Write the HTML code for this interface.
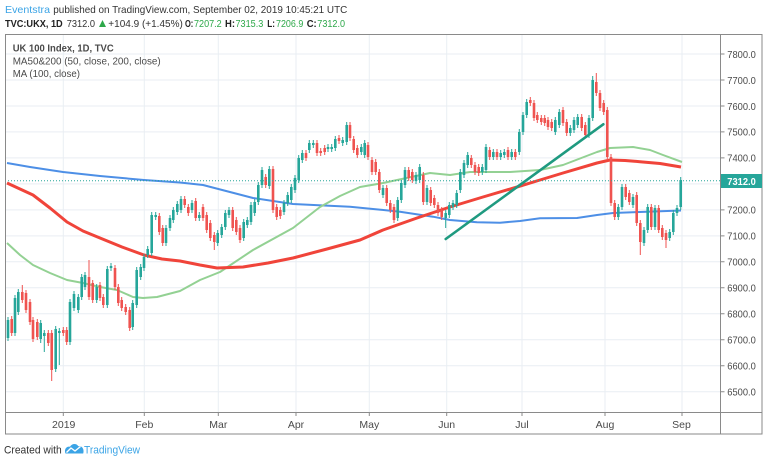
<!DOCTYPE html>
<html><head><meta charset="utf-8"><style>
html,body{margin:0;padding:0;background:#fff;}
svg{display:block;font-family:"Liberation Sans",sans-serif;}
</style></head><body>
<svg width="768" height="464" viewBox="0 0 768 464" xmlns="http://www.w3.org/2000/svg">
<rect width="768" height="464" fill="#fff"/>
<!-- header -->
<text x="5" y="13" font-size="10.5" fill="#3ba4e6" textLength="45" lengthAdjust="spacingAndGlyphs">Eventstra</text>
<text x="53.3" y="13" font-size="10.5" fill="#333" textLength="294" lengthAdjust="spacingAndGlyphs">published on TradingView.com, September 02, 2019 10:45:21 UTC</text>
<g font-size="10">
<text x="5" y="27" font-weight="bold" fill="#222" textLength="57.7" lengthAdjust="spacingAndGlyphs">TVC:UKX, 1D</text>
<text x="66.7" y="27" fill="#333" textLength="28.3" lengthAdjust="spacingAndGlyphs">7312.0</text>
<polygon points="99,27 106,27 102.5,20" fill="#2ea84a"/>
<text x="108.3" y="27" fill="#333" textLength="74.5" lengthAdjust="spacingAndGlyphs">+104.9 (+1.45%)</text>
<text x="185" y="27" font-weight="bold" fill="#222" textLength="8.3" lengthAdjust="spacingAndGlyphs">O:</text>
<text x="194" y="27" fill="#2ea84a" textLength="27.7" lengthAdjust="spacingAndGlyphs">7207.2</text>
<text x="225" y="27" font-weight="bold" fill="#222" textLength="10" lengthAdjust="spacingAndGlyphs">H:</text>
<text x="235.5" y="27" fill="#2ea84a" textLength="27.8" lengthAdjust="spacingAndGlyphs">7315.3</text>
<text x="267.3" y="27" font-weight="bold" fill="#222" textLength="7.7" lengthAdjust="spacingAndGlyphs">L:</text>
<text x="276" y="27" fill="#2ea84a" textLength="27.3" lengthAdjust="spacingAndGlyphs">7206.9</text>
<text x="306.7" y="27" font-weight="bold" fill="#222" textLength="10" lengthAdjust="spacingAndGlyphs">C:</text>
<text x="317.3" y="27" fill="#2ea84a" textLength="27.7" lengthAdjust="spacingAndGlyphs">7312.0</text>
</g>
<!-- grid -->
<g stroke="#e9eef3" stroke-width="1">
<path d="M5 54H720M5 80H720M5 106H720M5 131.9H720M5 157.9H720M5 183.9H720M5 209.9H720M5 235.9H720M5 261.8H720M5 287.8H720M5 313.8H720M5 339.8H720M5 365.7H720M5 391.7H720"/>
<path d="M63.3 34V412M144.3 34V412M218.3 34V412M296 34V412M369.3 34V412M446.7 34V412M522 34V412M605 34V412M682 34V412"/>
</g>
<!-- legend -->
<g font-size="10.5" fill="#4a4a4a">
<text x="12.7" y="51.5" font-weight="bold" textLength="101" lengthAdjust="spacingAndGlyphs">UK 100 Index, 1D, TVC</text>
<text x="12.7" y="64.3" textLength="148" lengthAdjust="spacingAndGlyphs">MA50&amp;200 (50, close, 200, close)</text>
<text x="12.7" y="77" textLength="67.3" lengthAdjust="spacingAndGlyphs">MA (100, close)</text>
</g>
<!-- MAs -->
<polyline fill="none" stroke="#4d8fe6" stroke-width="2" stroke-linejoin="round" points="7,163 30,167 63,172 100,176 144,180 180,182.5 203,185 253,198 293,204 350,206.7 400,211.7 433,216.7 450,220 477,222.3 500,222.7 520,221 540,218.3 577,218 597,215 613,213 640,212 681,210.5"/>
<polyline fill="none" stroke="#93d193" stroke-width="2" stroke-linejoin="round" points="7,243 20,255 33,265 50,273 67,280 83,283 100,287 117,290 133,297 143,298 157,297 180,291 200,280 220,272 253,250 293,228 320,207 340,196 360,187 383,183 430,173 450,175 470,172 510,172 540,170 563,165 597,152 610,148 633,147 650,150 663,155 682,162"/>
<polyline fill="none" stroke="#f0443a" stroke-width="3" stroke-linejoin="round" points="7,183 20,189 33,195 50,208 67,222 83,231 100,238 122,247 144,255 162,259 180,261 200,265 217,268 243,267 268,263 293,258 327,249 360,240 383,230 417,218 450,207 483,197 517,187 540,180 563,173 597,163 610,160 625,160.5 640,161.7 660,163.5 681,167"/>
<!-- candle wicks -->
<path fill="none" stroke="#26a69a" stroke-width="1" d="M8 317V341M15 295V336M18.3 289V315M40.7 320V343M44.3 330V352M55.7 326V372M59.3 328V365M70 299V345M74 291V311M78.3 294V313M81.7 274V300M85 272V290M96.7 284V303M107.3 266V308M111 263V271M132.7 300V330M136.7 267V308M140.7 264V280M144 254V271M147.7 246V258M151.7 212V256M155.7 212V220M166 225V246M170 215V231M173.3 207V223M177.3 201V215M181 196V213M192 200V213M199.3 212V221M217.7 230V246M221.7 224V238M225.3 210V230M229 207V218M243.7 219V241M247.3 217V228M251 202V225M254.7 199V216M258.3 182V205M262 167V188M269.3 166V189M284 200V215M287.7 192V206M291.3 184V203M295 175V193M298.7 155V183M302.3 150V163M309.3 140V153M313.3 140V148M328 144V152M331.7 144V152M335.3 136V151M342.7 137V146M346.7 122V145M361.3 144V155M364.7 140V158M383 185V198M397.7 197V221M401.3 180V203M405 167V188M416 172V184M419.7 164V183M427 185V205M445.7 210V228M449.3 202V218M453 200V210M456.7 190V208M460.3 169V193M464 160V178M467.7 152V168M482.3 164V175M486 144V173M493.3 149V160M500.7 150V160M504.3 149V158M511.7 149V160M519.3 129V155M523 112V135M526.7 99V118M555.3 117V135M559.3 109V128M570.3 125V136M574 117V133M577.7 114V128M589 115V138M592.7 76V121M618.3 204V220M622 184V210M633 194V208M644 227V246M647.7 204V233M655 205V230M669.7 229V241M673.3 210V235M677 205V216M680.7 177V210"/>
<path fill="none" stroke="#ef5350" stroke-width="1" d="M11.7 316V336M22.3 285V303M26 290V313M30 299V325M33 317V342M37.3 319V340M48.3 330V346M51.7 330V381M63.3 327V336M66.7 327V345M89 260V300M92.7 280V303M100 282V301M103.3 294V308M115 265V290M118.3 284V306M121.7 297V311M125.7 304V315M129.7 307V331M159.3 213V235M162.7 225V246M184.7 196V208M188.3 204V216M195.7 198V221M203 204V221M206.7 212V233M210.3 220V241M214.3 232V250M232.7 207V231M236.3 217V235M240 225V243M265.7 174V188M273 166V213M276.7 204V220M280.3 207V219M306 150V161M317 140V156M320.7 148V156M324.7 145V155M339 135V144M350 122V141M353.7 136V153M357.3 145V158M368 142V160M372 157V175M375.7 159V175M379.3 169V193M386.7 185V206M390.3 200V213M394 204V223M408.7 167V181M412.3 169V183M423.3 172V205M430.7 187V206M434.3 195V208M438 202V216M441.7 207V220M471.3 155V168M475 162V175M478.7 164V176M489.7 147V160M497 149V160M508 147V160M515.3 149V160M530.3 97V106M534 100V121M537.3 112V123M541.3 115V125M544.7 115V126M548 117V130M551.7 119V131M563 107V126M566.7 119V136M581.7 114V131M585.3 122V138M596.3 73V96M600 90V111M603.7 100V115M607.3 107V160M611 154V206M614.7 200V220M625.7 184V200M629.3 190V205M636.7 192V226M640.3 220V255M651.3 204V230M658.7 205V233M662.3 225V240M666 230V248"/>
<!-- candle bodies -->
<path fill="none" stroke="#26a69a" stroke-width="2.6" d="M8 320V338M15 298V333M18.3 292V312M40.7 323V339M44.3 333V336M55.7 329V369M59.3 331V333M70 302V342M74 294V308M78.3 297V310M81.7 277V297M85 275V287M96.7 287V300M107.3 269V305M111 266V268M132.7 303V327M136.7 270V305M140.7 267V277M144 257V268M147.7 249V255M151.7 215V253M155.7 215V217M166 228V243M170 218V228M173.3 210V220M177.3 204V212M181 199V210M192 203V210M199.3 215V218M217.7 233V243M221.7 227V235M225.3 213V227M229 210V215M243.7 222V238M247.3 220V225M251 205V222M254.7 202V213M258.3 185V202M262 170V185M269.3 169V186M284 203V212M287.7 195V203M291.3 187V200M295 178V190M298.7 158V180M302.3 153V160M309.3 143V150M313.3 143V145M328 147V149M331.7 147V149M335.3 139V148M342.7 140V143M346.7 125V142M361.3 147V152M364.7 143V155M383 188V195M397.7 200V218M401.3 183V200M405 170V185M416 175V181M419.7 167V180M427 188V202M445.7 213V218M449.3 205V215M453 203V207M456.7 193V205M460.3 172V190M464 163V175M467.7 155V165M482.3 167V172M486 147V170M493.3 152V157M500.7 153V157M504.3 152V155M511.7 152V157M519.3 132V152M523 115V132M526.7 102V115M555.3 120V132M559.3 112V125M570.3 128V133M574 120V130M577.7 117V125M589 118V135M592.7 80V118M618.3 207V217M622 187V207M633 197V205M644 230V243M647.7 207V230M655 208V227M669.7 232V238M673.3 213V232M677 208V213M680.7 180V207"/>
<path fill="none" stroke="#ef5350" stroke-width="2.6" d="M11.7 319V333M22.3 292V300M26 293V310M30 302V322M33 320V339M37.3 322V337M48.3 333V343M51.7 333V370M63.3 330V333M66.7 330V342M89 277V297M92.7 283V300M100 285V298M103.3 297V305M115 268V287M118.3 287V303M121.7 300V308M125.7 307V312M129.7 310V328M159.3 216V232M162.7 228V243M184.7 199V205M188.3 207V213M195.7 201V218M203 207V218M206.7 215V230M210.3 223V238M214.3 235V242M232.7 210V228M236.3 220V232M240 228V240M265.7 177V185M273 169V210M276.7 207V217M280.3 210V216M306 153V158M317 143V153M320.7 151V153M324.7 148V152M339 138V141M350 125V138M353.7 139V150M357.3 148V155M368 145V157M372 160V172M375.7 162V172M379.3 172V190M386.7 188V203M390.3 203V210M394 207V220M408.7 170V178M412.3 172V180M423.3 175V202M430.7 190V203M434.3 198V205M438 205V213M441.7 210V217M471.3 158V165M475 165V172M478.7 167V173M489.7 150V157M497 152V157M508 150V157M515.3 152V157M530.3 100V103M534 103V118M537.3 115V120M541.3 118V122M544.7 118V123M548 120V127M551.7 122V128M563 110V123M566.7 122V133M581.7 117V128M585.3 125V135M596.3 82V93M600 93V108M603.7 103V112M607.3 110V157M611 157V203M614.7 203V217M625.7 187V197M629.3 193V202M636.7 195V223M640.3 223V242M651.3 207V227M658.7 208V230M662.3 228V237M666 233V240"/>
<!-- trend line -->
<line x1="445.7" y1="239" x2="603.3" y2="124.3" stroke="#1f9a80" stroke-width="2.6" stroke-linecap="round"/>
<!-- price line -->
<line x1="5" y1="180.8" x2="720" y2="180.8" stroke="#26a69a" stroke-width="1" stroke-dasharray="1 2"/>
<!-- frame -->
<g stroke="#8a8a8a" stroke-width="1" fill="none">
<rect x="5.5" y="34.5" width="756.5" height="399.5"/>
<path d="M720.5 34V434M5 412.5H762"/>
<path d="M720.5 54H724.5M720.5 80H724.5M720.5 106H724.5M720.5 131.9H724.5M720.5 157.9H724.5M720.5 209.9H724.5M720.5 235.9H724.5M720.5 261.8H724.5M720.5 287.8H724.5M720.5 313.8H724.5M720.5 339.8H724.5M720.5 365.7H724.5M720.5 391.7H724.5"/>
<path d="M63.3 412.5V416M144.3 412.5V416M218.3 412.5V416M296 412.5V416M369.3 412.5V416M446.7 412.5V416M522 412.5V416M605 412.5V416M682 412.5V416"/>
</g>
<!-- price labels -->
<g font-size="10.5" fill="#4a4a4a">
<text x="727.3" y="57.8" textLength="28.5" lengthAdjust="spacingAndGlyphs">7800.0</text>
<text x="727.3" y="83.8" textLength="28.5" lengthAdjust="spacingAndGlyphs">7700.0</text>
<text x="727.3" y="109.8" textLength="28.5" lengthAdjust="spacingAndGlyphs">7600.0</text>
<text x="727.3" y="135.7" textLength="28.5" lengthAdjust="spacingAndGlyphs">7500.0</text>
<text x="727.3" y="161.7" textLength="28.5" lengthAdjust="spacingAndGlyphs">7400.0</text>
<text x="727.3" y="213.7" textLength="28.5" lengthAdjust="spacingAndGlyphs">7200.0</text>
<text x="727.3" y="239.7" textLength="28.5" lengthAdjust="spacingAndGlyphs">7100.0</text>
<text x="727.3" y="265.6" textLength="28.5" lengthAdjust="spacingAndGlyphs">7000.0</text>
<text x="727.3" y="291.6" textLength="28.5" lengthAdjust="spacingAndGlyphs">6900.0</text>
<text x="727.3" y="317.6" textLength="28.5" lengthAdjust="spacingAndGlyphs">6800.0</text>
<text x="727.3" y="343.6" textLength="28.5" lengthAdjust="spacingAndGlyphs">6700.0</text>
<text x="727.3" y="369.5" textLength="28.5" lengthAdjust="spacingAndGlyphs">6600.0</text>
<text x="727.3" y="395.5" textLength="28.5" lengthAdjust="spacingAndGlyphs">6500.0</text>
</g>
<rect x="721" y="174" width="41" height="14" fill="#26a69a"/>
<text x="727.3" y="184.8" font-size="10.5" font-weight="bold" fill="#fff" textLength="28.5" lengthAdjust="spacingAndGlyphs">7312.0</text>
<!-- time labels -->
<g font-size="10.5" fill="#4a4a4a" text-anchor="middle">
<text x="63.7" y="428">2019</text>
<text x="144.3" y="428">Feb</text>
<text x="218.3" y="428">Mar</text>
<text x="296" y="428">Apr</text>
<text x="369.3" y="428">May</text>
<text x="446.7" y="428">Jun</text>
<text x="522" y="428">Jul</text>
<text x="605" y="428">Aug</text>
<text x="681.5" y="428">Sep</text>
</g>
<!-- footer -->
<text x="4" y="453.5" font-size="11" fill="#333" textLength="57.7" lengthAdjust="spacingAndGlyphs">Created with</text>
<path d="M65.5 453.5 C63.8 449.5 66.5 446 70 446.8 C71.5 443.5 76.5 443 78.3 446.2 C82.3 445.4 84.5 449.5 83.2 453.5 Z" fill="#3ba4e6"/>
<polyline points="66.5,452.5 71,448 75,451 80.5,446.5" fill="none" stroke="#fff" stroke-width="1.4" stroke-linejoin="round"/>
<text x="84" y="453.5" font-size="11" fill="#3ba4e6" textLength="56" lengthAdjust="spacingAndGlyphs">TradingView</text>
</svg>
</body></html>
